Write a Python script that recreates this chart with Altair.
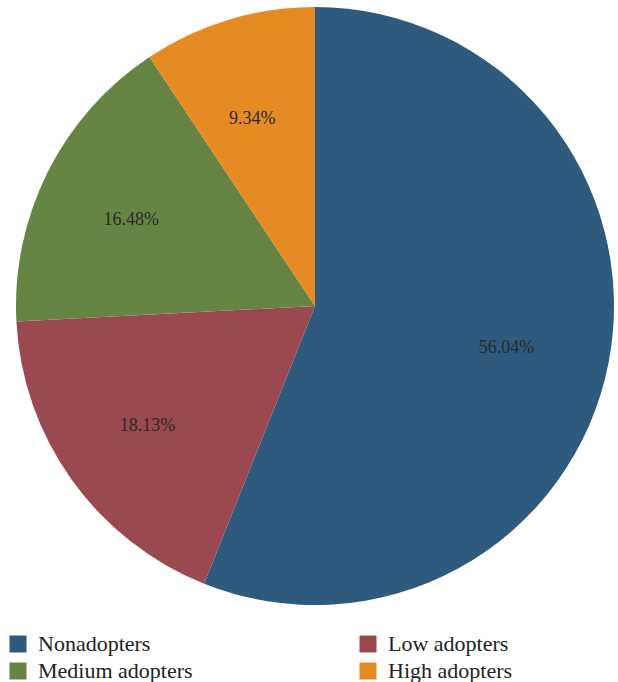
import altair as alt
import pandas as pd

categories = ["Nonadopters", "Low adopters", "Medium adopters", "High adopters"]
shares = [56.04, 18.13, 16.48, 9.34]
colors = ["#2D5A7D", "#9B4950", "#668444", "#E68A24"]
labels = ["56.04%", "18.13%", "16.48%", "9.34%"]

df = pd.DataFrame({"cat": categories, "share": shares, "label": labels,
                   "order": list(range(len(categories)))})

SERIF = "Liberation Serif, Times New Roman, serif"

base = alt.Chart(df).encode(
    theta=alt.Theta("share:Q", stack=True),
    order=alt.Order("order:Q"),
)

arcs = base.mark_arc(outerRadius=299, x=315, y=306).encode(
    color=alt.Color(
        "cat:N",
        scale=alt.Scale(domain=categories, range=colors),
        sort=categories,
        legend=alt.Legend(
            title=None,
            orient="none",
            legendX=7,
            legendY=633,
            columns=2,
            direction="horizontal",
            symbolType="square",
            symbolSize=289,
            symbolStrokeWidth=0,
            symbolOpacity=1,
            labelFont=SERIF,
            labelFontSize=22,
            labelColor="#222222",
            labelOffset=9,
            labelLimit=300,
            rowPadding=5,
            columnPadding=164,
            gridAlign="all",
        ),
    )
)

texts = base.mark_text(
    radius=200, x=310, y=306, dy=4, font=SERIF, fontSize=18, color="#2a2a2a"
).encode(text="label:N")

chart = (arcs + texts).properties(
    width=618, height=682, autosize=alt.AutoSizeParams(type="none"), padding=0
).configure_view(stroke=None)

chart.save("out.html", embed_options={"renderer": "svg", "actions": False})
